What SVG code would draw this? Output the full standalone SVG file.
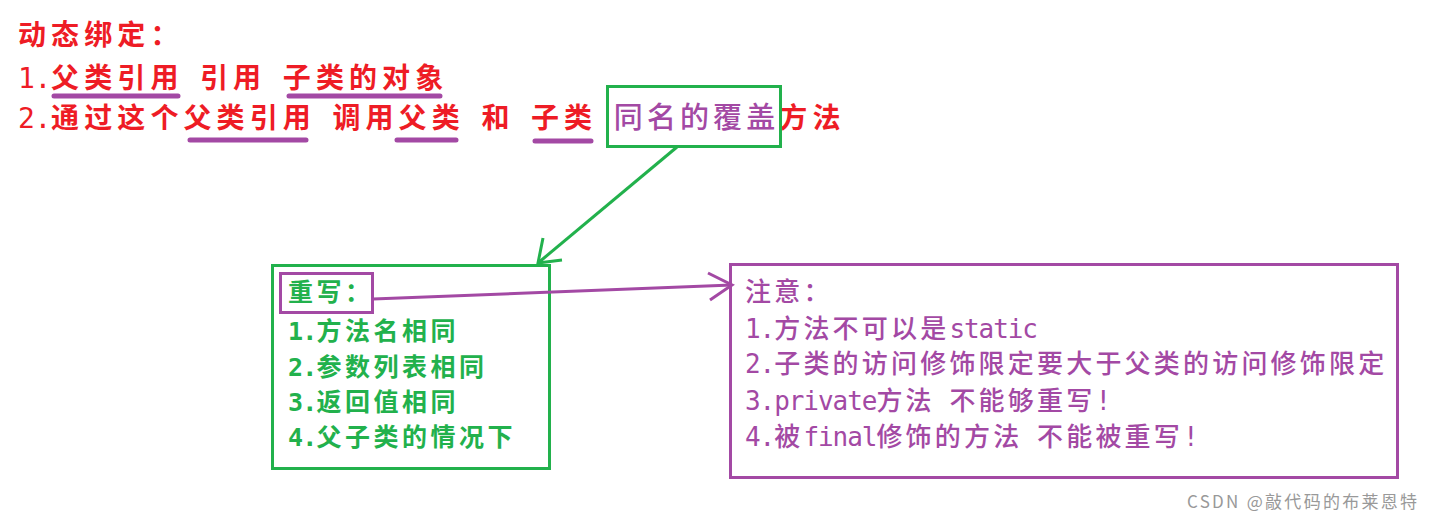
<svg xmlns="http://www.w3.org/2000/svg" width="1433" height="521" viewBox="0 0 1433 521">
<style>
.cjk{font-family:"Noto Sans CJK SC","Noto Sans",sans-serif}
.a{font-family:"DejaVu Sans Mono","Liberation Mono",monospace}
.top{font-size:28px;font-weight:bold;letter-spacing:5.1px;fill:#ee1c25}
.top .a{letter-spacing:-0.3px;font-weight:normal}
.pu{fill:#a349a4}
.lt{font-size:25px;font-weight:bold;letter-spacing:3.5px;fill:#22b14c}
.lt .a{letter-spacing:-0.8px}
.rt{font-size:26px;font-weight:500;letter-spacing:3.2px;fill:#a349a4}
.rt .a{letter-spacing:-1.06px}
.ul{stroke:#a349a4;stroke-width:5;stroke-linecap:round;fill:none}
.gbox{fill:none;stroke:#22b14c;stroke-width:3}
.pbox{fill:none;stroke:#a349a4;stroke-width:3}
.gline{fill:none;stroke:#22b14c;stroke-width:3;stroke-linejoin:miter}
.pline{fill:none;stroke:#a349a4;stroke-width:3;stroke-linejoin:miter}
</style>
<rect width="1433" height="521" fill="#ffffff"/>
<g id="title">
<text class="cjk top" x="18" y="45">动态绑定：</text>
<text class="cjk top" y="88"><tspan class="a" x="18">1.</tspan><tspan x="51.1">父类引用</tspan><tspan x="200">引用</tspan><tspan x="282.8">子类的对象</tspan></text>
<text class="cjk top" y="128"><tspan class="a" x="18">2.</tspan><tspan x="51.1">通过这个父类引用</tspan><tspan x="332.4">调用父类</tspan><tspan x="481.4">和</tspan><tspan x="531">子类</tspan><tspan x="613.8" class="pu" style="font-weight:500;font-size:29px;letter-spacing:4.1px">同名的覆盖</tspan><tspan x="779.3">方法</tspan></text>
<path class="ul" d="M54,96H178M289,96H440M190,140H306M397,140H456M535,141H591"/>
</g>
<g id="same-name-box">
<rect class="gbox" x="607.5" y="86.5" width="173" height="60"/>
</g>
<g id="override">
<rect class="gbox" x="272.5" y="265.5" width="277" height="203"/>
<rect class="pbox" x="280.5" y="273.5" width="92" height="39"/>
<text class="cjk lt" x="288" y="301">重写：</text>
<text class="cjk lt" y="340"><tspan class="a" x="288">1.</tspan><tspan x="316.5">方法名相同</tspan></text>
<text class="cjk lt" y="376"><tspan class="a" x="288">2.</tspan><tspan x="316.5">参数列表相同</tspan></text>
<text class="cjk lt" y="411"><tspan class="a" x="288">3.</tspan><tspan x="316.5">返回值相同</tspan></text>
<text class="cjk lt" y="446"><tspan class="a" x="288">4.</tspan><tspan x="316.5">父子类的情况下</tspan></text>
</g>
<g id="notes">
<rect class="pbox" x="730.5" y="264.5" width="667" height="213"/>
<text class="cjk rt" x="745" y="301">注意：</text>
<text class="cjk rt" y="338"><tspan class="a" x="745">1.</tspan><tspan x="774.2">方法不可以是</tspan><tspan class="a" x="949.4">static</tspan></text>
<text class="cjk rt" y="373"><tspan class="a" x="745">2.</tspan><tspan x="774.2">子类的访问修饰限定要大于父类的访问修饰限定</tspan></text>
<text class="cjk rt" y="410"><tspan class="a" x="745">3.private</tspan><tspan x="876.4">方法</tspan><tspan x="949.4">不能够重写</tspan><tspan class="a" x="1095.4">!</tspan></text>
<text class="cjk rt" y="446"><tspan class="a" x="745">4.</tspan><tspan x="774.2">被</tspan><tspan class="a" x="803.4">final</tspan><tspan x="876.4">修饰的方法</tspan><tspan x="1037">不能被重写</tspan><tspan class="a" x="1183">!</tspan></text>
</g>
<g id="connectors">
<path class="gline" d="M677,147L538,263"/>
<path class="gline" d="M543,238L538,263L562,260"/>
<path class="pline" d="M373,299L732,285"/>
<path class="pline" d="M708,273L732,285L710,300"/>
</g>
<g id="watermark">
<text class="cjk" x="1187" y="508" font-size="17" fill="#999999" textLength="230" lengthAdjust="spacing">CSDN @敲代码的布莱恩特</text>
</g>
</svg>
